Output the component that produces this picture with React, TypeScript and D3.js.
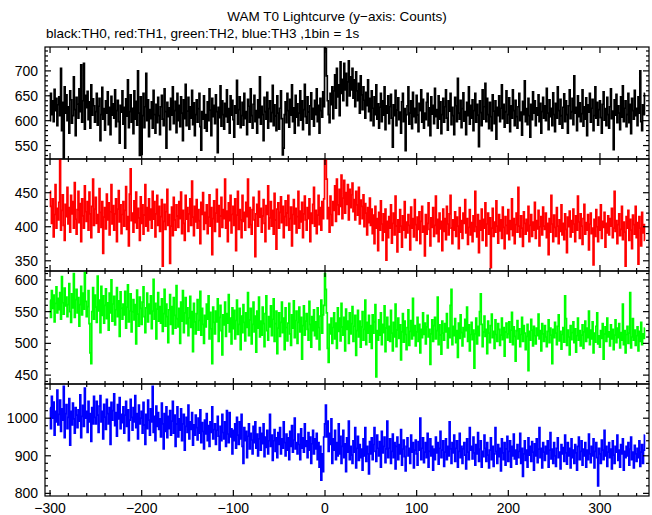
import React from 'react';
import * as d3 from 'd3';

// ---------- data (counts per 1 s bin, t = -300 ... 349 s) ----------
const START_TIME = -300;

const TH0 = [
600,655,612,640,598,663,620,645,590,632,
648,610,705,580,637,525,668,615,652,600,
628,575,660,642,595,610,688,622,570,647,
633,605,664,618,712,597,640,715,583,651,
626,659,602,638,585,672,611,644,630,597,
618,655,591,629,645,560,612,667,603,624,
581,640,615,658,592,627,572,649,611,634,
605,662,588,620,641,598,555,631,617,660,
593,627,545,644,609,682,586,618,652,597,
625,574,660,603,639,591,700,615,530,648,
532,610,655,586,628,695,600,642,568,622,
604,638,585,661,612,575,633,596,647,610,
572,628,651,603,590,664,618,545,637,608,
626,582,645,611,668,594,620,639,576,655,
600,631,588,648,615,560,642,604,673,590,
619,647,583,628,605,661,592,636,570,612,
642,597,624,655,588,541,618,603,650,585,
612,579,638,600,664,621,570,645,608,631,
594,652,618,536,627,606,670,589,640,612,
583,635,608,662,597,624,575,650,611,641,
602,567,630,615,681,593,622,648,586,610,
637,591,655,604,618,572,643,629,597,664,
610,585,633,651,598,620,575,642,606,688,
593,629,612,560,647,618,603,657,585,624,
640,598,616,671,590,632,609,580,650,615,
583,625,660,604,531,545,612,638,596,655,
620,587,643,611,672,598,626,575,651,607,
634,590,615,660,601,640,582,622,673,608,
595,648,617,572,630,656,603,625,589,641,
612,664,598,631,575,645,620,607,658,628,
770,745,690,640,612,596,655,632,668,604,
660,692,625,705,648,672,610,718,655,683,
640,715,662,695,630,678,720,650,688,662,
705,645,682,628,698,660,640,675,615,690,
652,622,668,641,605,657,630,682,618,645,
600,660,625,590,648,612,672,603,634,585,
627,655,598,640,611,668,582,630,615,650,
594,628,653,605,547,632,610,661,590,621,
646,602,617,575,638,655,598,624,540,612,
630,668,593,615,640,584,657,608,625,596,
651,611,578,635,620,662,597,643,585,615,
602,637,655,590,626,570,648,613,631,594,
665,608,622,585,650,603,638,574,612,645,
597,628,662,605,581,640,619,655,592,627,
610,572,647,630,598,685,615,603,641,586,
624,656,599,618,572,637,610,668,593,631,
605,642,580,620,655,597,633,611,548,640,
616,590,662,603,628,675,598,645,612,584,
637,608,580,652,619,594,640,563,627,610,
650,598,625,672,604,633,587,618,660,595,
612,646,578,630,605,662,620,590,641,608,
585,628,655,600,617,571,639,612,680,598,
624,592,645,610,567,633,602,658,615,640,
590,626,611,652,598,635,575,618,647,605,
630,600,665,615,582,642,608,625,590,656,
612,578,635,605,668,620,593,643,610,585,
627,654,598,640,612,575,630,662,604,618,
645,592,690,615,627,580,650,608,636,598,
614,662,589,628,603,646,570,632,617,655,
597,625,643,580,610,668,605,637,591,622,
640,606,575,633,658,601,624,590,647,612,
585,628,664,604,619,542,642,611,653,596,
630,615,582,648,607,670,598,625,640,588,
612,655,596,633,574,645,620,603,661,610,
625,590,648,615,700,598,580,632,612,655,
];

const TH1 = [
452,430,405,441,385,418,462,398,427,410,
436,505,395,424,447,402,380,433,415,458,
404,428,392,446,419,437,398,465,411,389,
425,452,406,434,378,441,416,398,460,422,
408,437,395,451,419,384,430,470,402,426,
443,405,418,392,456,421,399,437,361,414,
428,397,448,410,435,388,422,462,404,431,
395,419,441,378,426,453,407,432,390,418,
437,401,424,459,396,415,372,448,485,409,
420,392,438,406,451,398,427,413,380,444,
405,432,389,417,462,401,428,394,441,410,
426,398,452,411,437,385,419,446,402,430,
393,415,440,342,408,433,396,422,455,402,
418,346,401,429,387,443,410,395,432,416,
399,437,412,451,390,424,405,380,446,411,
428,393,419,441,402,467,414,387,430,407,
440,398,425,409,375,436,418,450,396,421,
405,432,390,414,447,401,428,359,412,438,
393,420,455,407,431,386,416,443,399,425,
412,470,398,423,378,435,409,446,391,418,
430,402,441,365,417,452,396,425,410,384,
446,408,421,395,436,415,470,399,428,403,
389,425,443,410,356,419,433,401,452,414,
427,392,416,440,405,378,431,418,460,397,
413,437,401,424,389,449,410,367,426,435,
398,421,444,406,430,384,415,438,402,420,
446,395,412,429,372,418,440,404,427,391,
415,452,398,423,407,436,384,419,445,410,
395,428,412,441,378,420,405,433,458,401,
424,390,417,446,403,428,395,437,412,441,
505,498,470,412,428,392,445,418,402,437,
424,460,408,470,432,418,455,430,476,412,
442,468,420,450,433,462,410,455,428,447,
464,422,440,410,452,432,417,458,404,439,
430,412,447,400,434,420,388,428,406,442,
402,426,390,417,375,430,398,412,365,421,
395,438,404,380,419,392,426,351,408,384,
415,398,432,376,405,420,388,445,401,363,
410,392,425,401,370,416,395,437,384,407,
391,418,402,366,429,398,412,385,440,403,
380,414,396,422,375,408,430,392,401,357,
418,389,405,435,396,372,413,399,428,386,
402,445,390,411,378,420,397,408,365,426,
393,412,381,430,404,388,419,446,398,375,
410,395,422,386,414,401,368,428,392,409,
383,420,405,440,391,412,374,399,425,388,
406,378,416,393,452,400,385,418,362,409,
395,426,380,411,398,435,372,404,420,389,
413,340,398,427,386,407,392,438,401,376,
418,394,410,383,429,399,368,415,402,390,
425,381,409,396,441,387,412,375,403,420,
392,458,401,385,416,398,371,422,405,389,
411,394,430,378,402,418,386,407,395,436,
383,409,397,424,372,400,415,388,429,401,
396,420,384,405,359,412,392,446,404,378,
417,399,386,428,401,375,410,393,432,388,
405,381,419,396,362,414,400,423,385,409,
392,426,404,378,416,395,445,407,383,419,
401,374,412,433,389,406,395,418,366,404,
420,390,398,344,411,386,425,400,378,414,
395,432,383,408,399,421,370,405,391,416,
388,412,401,427,384,398,452,393,409,375,
403,419,387,396,430,381,407,392,342,415,
398,424,380,411,395,368,417,403,389,430,
384,406,345,415,398,372,421,391,403,380,
];

const TH2 = [
568,541,583,555,576,534,563,589,548,571,
553,580,538,605,564,546,587,559,573,542,
561,594,550,533,578,556,610,541,569,585,
548,572,527,561,590,545,579,554,612,566,
542,558,583,531,485,468,550,588,538,576,
557,533,606,551,568,517,590,544,575,532,
560,586,539,564,521,579,548,600,535,562,
574,529,553,588,542,567,511,581,555,538,
562,545,582,524,557,592,534,551,578,518,
550,569,537,561,499,584,546,527,573,555,
530,565,589,542,517,556,579,534,562,547,
575,523,551,601,538,563,507,554,580,535,
558,532,570,519,547,585,527,562,542,501,
553,577,530,558,515,572,544,524,591,539,
526,555,500,565,535,583,517,548,572,531,
556,512,540,574,525,550,487,563,534,515,
547,569,521,536,582,513,555,530,500,544,
526,562,538,575,507,549,523,468,557,533,
515,551,534,570,503,541,560,520,482,545,
529,565,511,547,532,577,518,540,499,556,
523,552,507,536,568,514,530,555,490,543,
517,561,533,504,548,525,580,512,537,555,
499,530,565,518,543,486,551,524,573,510,
535,513,557,531,495,547,575,520,505,542,
526,559,512,538,570,503,531,551,484,524,
548,511,533,565,517,540,490,556,525,504,
532,563,515,497,545,524,567,509,536,551,
500,533,557,518,541,475,528,559,513,535,
547,522,505,566,530,494,542,520,553,512,
534,507,556,525,490,543,568,516,545,560,
610,585,548,492,470,530,515,540,500,525,
548,507,532,492,556,519,540,504,563,526,
513,541,488,554,522,535,500,548,515,531,
558,503,527,544,481,520,552,510,535,494,
526,550,505,522,568,498,533,516,544,502,
528,492,545,516,534,561,447,520,505,537,
513,548,498,530,517,559,487,524,541,505,
527,503,552,516,488,533,510,562,495,521,
540,508,529,474,518,547,502,535,514,490,
525,553,497,519,536,507,571,512,528,496,
518,541,503,530,485,522,509,548,514,532,
499,526,544,510,522,467,515,537,503,528,
541,507,520,573,498,529,513,483,535,516,
505,531,518,547,493,524,509,560,585,498,
527,512,539,501,520,478,532,508,545,517,
496,525,510,538,520,557,503,529,488,514,
533,506,521,461,515,540,499,527,512,550,
578,530,495,518,543,511,522,484,535,516,
501,528,546,509,519,492,537,514,503,531,
522,497,513,540,506,525,480,518,532,509,
515,534,502,521,549,498,526,511,472,520,
536,507,523,495,514,541,503,528,516,490,
511,530,457,519,505,538,521,496,527,512,
499,524,512,546,507,520,488,531,515,503,
528,510,495,519,537,501,524,513,468,522,
509,533,516,498,527,545,504,519,491,514,
525,502,575,539,497,521,510,482,528,506,
517,534,501,523,486,512,540,505,520,496,
513,529,492,518,535,503,524,509,551,498,
521,507,534,485,516,502,527,548,499,512,
494,520,508,531,475,515,526,503,540,510,
518,496,529,507,522,490,513,537,501,524,
509,531,493,517,505,562,498,520,485,514,
527,500,516,580,493,510,539,505,521,497,
512,526,488,519,503,533,498,515,508,524,
];

const TH3 = [
1028,972,1058,1000,1043,955,1018,990,1075,982,
1010,1048,965,1025,995,1085,948,1012,1036,972,
1002,1052,928,1018,982,1040,998,960,1028,1008,
975,1022,992,1062,948,1005,1034,978,1080,1000,
1018,962,1045,990,1012,938,1028,985,1058,1002,
985,1045,1008,962,1032,1060,990,1018,945,1037,
1003,970,1050,1012,985,1028,930,1042,995,1020,
1065,980,1015,952,1036,998,1055,972,1010,988,
1030,960,1008,1045,978,1022,940,995,1050,1002,
968,1028,990,1060,975,1012,945,1035,985,1000,
1018,960,1042,982,930,1010,972,1048,995,955,
1025,990,1085,962,1005,940,1032,978,1015,970,
998,950,1040,985,918,1012,965,1030,948,1005,
972,1020,955,992,1045,960,1008,925,985,1030,
950,998,968,1025,940,985,1010,915,978,1002,
962,1035,945,990,970,1015,928,982,955,1008,
975,942,1000,960,1022,935,988,965,918,995,
958,1012,940,980,925,990,962,1030,945,970,
985,930,968,1005,952,915,978,940,1010,962,
945,990,925,1020,958,935,1015,950,972,905,
968,940,985,920,1002,955,930,990,945,1010,
925,880,975,940,965,895,952,985,918,960,
942,905,978,935,990,920,958,900,945,975,
915,960,932,985,898,950,922,968,905,940,
1010,925,955,888,940,970,912,948,895,962,
930,975,905,945,920,990,935,900,958,915,
948,890,965,925,980,910,942,1000,918,935,
905,958,930,890,972,920,948,910,985,925,
940,895,962,915,950,880,932,968,905,945,
918,960,890,935,870,925,835,905,858,950,
985,1035,950,992,912,960,930,998,880,945,
915,968,890,935,900,985,905,952,880,925,
968,895,932,858,948,910,992,890,925,902,
880,940,910,975,868,920,952,888,930,895,
918,862,945,900,975,885,925,905,852,938,
905,948,890,930,975,912,885,955,920,900,
938,870,965,908,925,950,882,918,992,895,
920,945,880,912,958,895,935,865,925,950,
890,930,905,970,875,918,942,898,860,925,
948,900,920,880,955,910,935,868,915,942,
905,875,938,915,1000,890,920,948,882,910,
935,895,960,870,912,945,900,925,862,918,
890,950,908,935,878,920,965,895,915,940,
872,910,945,890,925,900,990,918,880,935,
908,955,885,920,940,870,912,960,895,925,
880,918,935,902,865,945,910,890,975,915,
925,892,950,908,875,930,905,962,885,918,
940,870,912,898,955,920,885,935,902,868,
915,948,890,925,872,905,975,912,880,930,
898,920,860,945,908,890,935,875,918,952,
885,912,940,870,925,900,958,892,915,878,
930,895,912,960,880,920,845,905,940,888,
915,870,948,902,925,885,938,910,862,932,
900,945,882,918,975,895,920,868,935,910,
888,925,905,940,870,915,962,892,918,880,
935,900,872,920,948,895,910,865,930,905,
922,885,955,908,878,935,900,920,868,945,
895,915,880,930,908,862,925,950,890,912,
940,875,918,900,935,870,915,890,958,905,
882,925,900,945,868,912,935,895,820,920,
905,880,942,915,890,968,900,925,872,910,
935,895,918,865,940,902,880,925,910,955,
888,915,870,930,905,945,862,912,895,925,
900,935,875,918,950,890,910,868,928,905,
885,920,895,940,872,910,930,880,915,955,
];

const SERIES_COLORS = ['#000000', '#ff0000', '#00ff00', '#0000ff'];
const Y_DOMAINS: [number, number][] = [[523, 748], [335, 499.5], [436, 614], [793, 1091]];
const Y_MAJOR_STEP = [50, 50, 50, 100];
const Y_MINOR_STEP = [10, 10, 10, 20];
const X_DOMAIN: [number, number] = [-305.5, 353.5];
const X_TICKS = [-300, -200, -100, 0, 100, 200, 300];
const TITLE = 'WAM T0 Lightcurve (y\u2212axis: Counts)';
const SUBTITLE = 'black:TH0, red:TH1, green:TH2, blue:TH3 ,1bin = 1s';

// ---------- layout ----------
const W = 652, H = 515;
const LEFT = 45, RIGHT = 649;
const PANEL_EDGES = [47, 159, 271, 384, 496];
const MAJOR_LEN = 6, MINOR_LEN = 3;
const FONT = 'Liberation Sans, Arial, Helvetica, sans-serif';

const fmt = (v: number) => (v < 0 ? '\u2212' + Math.abs(v) : String(v));

export default function App() {
  const allSeries = [TH0, TH1, TH2, TH3];
  const x = d3.scaleLinear().domain(X_DOMAIN).range([LEFT, RIGHT]);
  const xMinor = d3.range(-300, 360, 20).filter(v => v >= X_DOMAIN[0] && v <= X_DOMAIN[1]);
  const xMajor = X_TICKS;

  return (
    <svg width={W} height={H} style={{ position: 'absolute', left: 0, top: 0, background: '#fff' }}
      fontFamily={FONT}>
      <rect x={0} y={0} width={W} height={H} fill="#fff" />
      <text x={337} y={21} textAnchor="middle" fontSize={13.5}>{TITLE}</text>
      <text x={46} y={38} fontSize={13.5}>{SUBTITLE}</text>
      <defs>
        {allSeries.map((_, i) => (
          <clipPath id={`clip${i}`} key={i}>
            <rect x={LEFT} y={PANEL_EDGES[i]} width={RIGHT - LEFT} height={PANEL_EDGES[i + 1] - PANEL_EDGES[i]} />
          </clipPath>
        ))}
      </defs>
      {allSeries.map((vals, i) => {
        const top = PANEL_EDGES[i], bottom = PANEL_EDGES[i + 1];
        const y = d3.scaleLinear().domain(Y_DOMAINS[i]).range([bottom, top]);
        const pts = vals.map((v, k) => [START_TIME + k, v] as [number, number]);
        const line = d3.line<[number, number]>()
          .x(d => x(d[0]))
          .y(d => y(d[1]))
          .curve(d3.curveStep);
        const [y0, y1] = Y_DOMAINS[i];
        const yMinor = d3.range(Math.ceil(y0 / Y_MINOR_STEP[i]) * Y_MINOR_STEP[i], y1 + 0.001, Y_MINOR_STEP[i]);
        const yMajor = d3.range(Math.ceil(y0 / Y_MAJOR_STEP[i]) * Y_MAJOR_STEP[i], y1 + 0.001, Y_MAJOR_STEP[i]);
        return (
          <g key={i}>
            <path d={line(pts) || ''} fill="none" stroke={SERIES_COLORS[i]} strokeWidth={1.7}
              clipPath={`url(#clip${i})`} />
            <rect x={LEFT} y={top} width={RIGHT - LEFT} height={bottom - top} fill="none" stroke="#000" strokeWidth={1.2} />
            {xMinor.map(v => {
              const len = xMajor.includes(v) ? MAJOR_LEN : MINOR_LEN;
              const xv = x(v);
              return (
                <g key={'x' + v}>
                  <line x1={xv} x2={xv} y1={top} y2={top + len} stroke="#000" strokeWidth={1.2} />
                  <line x1={xv} x2={xv} y1={bottom} y2={bottom - len} stroke="#000" strokeWidth={1.2} />
                </g>
              );
            })}
            {yMinor.map(v => {
              const len = yMajor.some(m => Math.abs(m - v) < 1e-6) ? MAJOR_LEN : MINOR_LEN;
              const yv = y(v);
              return (
                <g key={'y' + v}>
                  <line x1={LEFT} x2={LEFT + len} y1={yv} y2={yv} stroke="#000" strokeWidth={1.2} />
                  <line x1={RIGHT} x2={RIGHT - len} y1={yv} y2={yv} stroke="#000" strokeWidth={1.2} />
                </g>
              );
            })}
            {yMajor.map(v => (
              <text key={'yl' + v} x={38} y={y(v)} dy="0.36em" textAnchor="end" fontSize={14}>{fmt(v)}</text>
            ))}
            {i === allSeries.length - 1 && xMajor.map(v => (
              <text key={'xl' + v} x={x(v)} y={bottom + 17} textAnchor="middle" fontSize={14}>{fmt(v)}</text>
            ))}
          </g>
        );
      })}
    </svg>
  );
}
